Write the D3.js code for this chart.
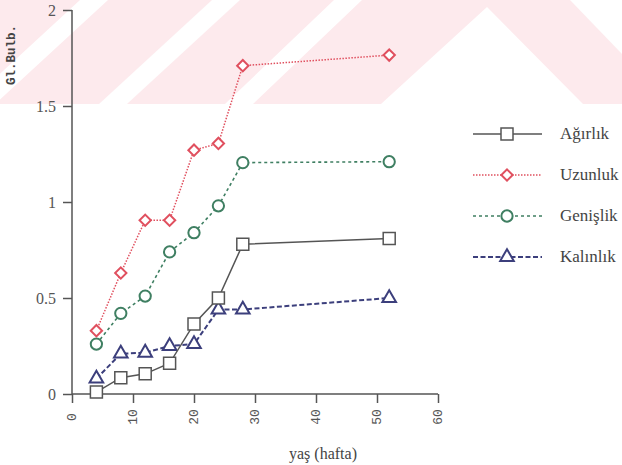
<!DOCTYPE html>
<html>
<head>
<meta charset="utf-8">
<script src="https://cdn.jsdelivr.net/npm/d3@7"></script>
<style>
  body { margin: 0; background: #fff; }
  svg { display: block; }
</style>
</head>
<body>
<div id="chart"></div>
<script>
// data
var weeks    = [4, 8, 12, 16, 20, 24, 28, 52];
var agirlik  = [0.01, 0.085, 0.105, 0.16, 0.365, 0.50, 0.78, 0.81];
var uzunluk  = [0.33, 0.63, 0.905, 0.905, 1.27, 1.305, 1.71, 1.765];
var genislik = [0.26, 0.42, 0.51, 0.74, 0.84, 0.98, 1.205, 1.21];
var kalinlik = [0.08, 0.21, 0.215, 0.25, 0.26, 0.44, 0.44, 0.50];
var seriesNames = ["Ağırlık", "Uzunluk", "Genişlik", "Kalınlık"];
var xTicks = [0, 10, 20, 30, 40, 50, 60];
var yTicks = [0, 0.5, 1, 1.5, 2];

var w = 622, h = 465;
var SERIF = "'Liberation Serif'";
var MONO = "'Liberation Mono'";

var svg = d3.select("#chart").append("svg")
  .attr("width", w)
  .attr("height", h);

// faint watermark band at the top of the scan
var wm = svg.append("g").attr("class", "watermark");
wm.append("rect")
  .attr("x", 0).attr("y", 0).attr("width", w).attr("height", 104)
  .attr("fill", "#fdeaed");
var holes = [
  [[80,0],[108,0],[-5,104],[-33,104]],
  [[212,0],[240,0],[127,104],[99,104]],
  [[334,0],[362,0],[253,104],[225,104]],
  [[487,7],[583,104],[381,104]],
  [[570,0],[622,0],[622,54]]
];
wm.selectAll("polygon")
  .data(holes)
  .enter()
  .append("polygon")
  .attr("points", function(d) { return d.map(function(p) { return p.join(","); }).join(" "); })
  .attr("fill", "#fff");

var xScale = d3.scaleLinear().domain([0, 60]).range([72, 438]);
var yScale = d3.scaleLinear().domain([0, 2]).range([394, 10]);

var axisColor = "#555";

var yAxis = d3.axisLeft(yScale)
  .tickValues(yTicks)
  .tickFormat(function(d) { return String(d); })
  .tickSize(9)
  .tickPadding(7);

var xAxis = d3.axisBottom(xScale)
  .tickValues(xTicks)
  .tickSize(9);

var gy = svg.append("g")
  .attr("transform", "translate(72,0)")
  .call(yAxis);
gy.select(".domain").attr("d", "M0,10V394").attr("stroke", axisColor).attr("stroke-width", 1.5);
gy.selectAll(".tick line").attr("stroke", axisColor).attr("stroke-width", 1.5);
gy.selectAll(".tick text")
  .attr("fill", "#555")
  .style("font-family", SERIF)
  .style("font-size", "16px");

var gx = svg.append("g")
  .attr("transform", "translate(0,394)")
  .call(xAxis);
gx.select(".domain").attr("d", "M72,0H438").attr("stroke", axisColor).attr("stroke-width", 1.5);
gx.selectAll(".tick line").attr("stroke", axisColor).attr("stroke-width", 1.5);
gx.selectAll(".tick text")
  .attr("fill", "#555")
  .attr("y", 0)
  .attr("dy", null)
  .attr("transform", "translate(0,23) rotate(-90)")
  .attr("text-anchor", "middle")
  .attr("dominant-baseline", "central")
  .style("font-family", MONO)
  .style("font-size", "13px");

// axis titles
svg.append("text")
  .attr("transform", "translate(12,55) rotate(-90)")
  .attr("text-anchor", "middle")
  .attr("dominant-baseline", "central")
  .attr("fill", "#444")
  .style("font-family", MONO)
  .style("font-weight", "bold")
  .style("font-size", "12.5px")
  .text("Gl.Bulb.");

svg.append("text")
  .attr("x", 323)
  .attr("y", 459)
  .attr("text-anchor", "middle")
  .attr("fill", "#444")
  .style("font-family", SERIF)
  .style("font-size", "16px")
  .text("yaş (hafta)");

// series styles
var styles = [
  { color: "#555555", dash: null,      width: 1.5, shape: "square" },
  { color: "#e0505f", dash: "1.5,1.5", width: 1.5, shape: "diamond" },
  { color: "#3f7f62", dash: "3,3",     width: 1.6, shape: "circle" },
  { color: "#3c3f7c", dash: "5,2.5",   width: 2,   shape: "triangle" }
];
var allSeries = [agirlik, uzunluk, genislik, kalinlik];

var symbolGen = {
  square:   d3.symbol().type(d3.symbolSquare).size(144),
  diamond:  d3.symbol().type(d3.symbolSquare).size(64),
  circle:   d3.symbol().type(d3.symbolCircle).size(100),
  triangle: d3.symbol().type(d3.symbolTriangle).size(80)
};

function drawMarker(g, s, x, y) {
  g.append("path")
    .attr("d", symbolGen[s.shape]())
    .attr("transform", "translate(" + x + "," + y + ")" + (s.shape === "diamond" ? " rotate(45)" : ""))
    .attr("fill", "#fff")
    .attr("stroke", s.color)
    .attr("stroke-width", s.shape === "square" ? 1.5 : 2);
}

var line = d3.line()
  .x(function(d) { return xScale(d[0]); })
  .y(function(d) { return yScale(d[1]); });

// draw back to front so Ağırlık sits on top
for (var k = allSeries.length - 1; k >= 0; k--) {
  var s = styles[k];
  var pts = weeks.map(function(wk, i) { return [wk, allSeries[k][i]]; });
  var g = svg.append("g");
  g.append("path")
    .datum(pts)
    .attr("d", line)
    .attr("fill", "none")
    .attr("stroke", s.color)
    .attr("stroke-width", s.width)
    .attr("stroke-dasharray", s.dash);
  pts.forEach(function(p) { drawMarker(g, s, xScale(p[0]), yScale(p[1])); });
}

// legend
var legendY = [134, 175, 216, 257];
seriesNames.forEach(function(name, i) {
  var s = styles[i];
  var g = svg.append("g");
  g.append("line")
    .attr("x1", 473).attr("x2", 542)
    .attr("y1", legendY[i]).attr("y2", legendY[i])
    .attr("stroke", s.color)
    .attr("stroke-width", s.width)
    .attr("stroke-dasharray", s.dash);
  drawMarker(g, s, 507, legendY[i]);
  g.append("text")
    .attr("x", 560)
    .attr("y", legendY[i] + 5)
    .attr("fill", "#444")
    .style("font-family", SERIF)
    .style("font-size", "17px")
    .text(name);
});
</script>
</body>
</html>
